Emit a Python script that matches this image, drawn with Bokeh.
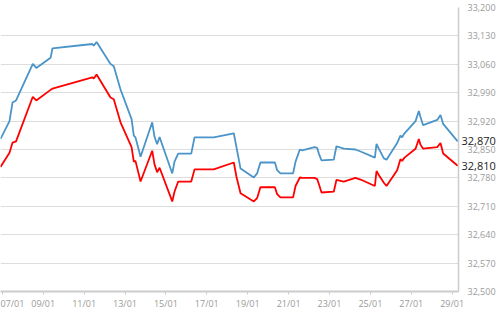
from bokeh.plotting import figure
from bokeh.models import FixedTicker, NumeralTickFormatter, Range1d, LinearAxis
from bokeh.embed import file_html
from bokeh.resources import INLINE

# Time (day of January, fractional) and two price series
days = [6.91, 7.35, 7.50, 7.67, 8.49, 8.66, 9.36, 9.45, 11.40, 11.47, 11.61,
        12.29, 12.45, 12.78, 13.32, 13.43, 13.51, 13.76, 14.33, 14.44, 14.57,
        14.69, 15.31, 15.42, 15.60, 16.24, 16.40, 17.34, 18.32, 18.45, 18.65,
        19.30, 19.46, 19.62, 20.33, 20.44, 20.60, 21.22, 21.34, 21.55, 21.67,
        22.27, 22.40, 22.48, 22.61, 23.21, 23.34, 23.70, 24.27, 24.52, 25.22,
        25.30, 25.41, 25.66, 25.79, 26.31, 26.47, 26.55, 26.67, 27.21, 27.37,
        27.45, 27.58, 28.27, 28.43, 28.56, 29.27]
blue = [32876, 32920, 32966, 32971, 33061, 33051, 33076, 33099, 33110, 33106, 33115,
        33061, 33055, 32998, 32925, 32884, 32880, 32832, 32917, 32882, 32863,
        32881, 32791, 32820, 32840, 32840, 32880, 32880, 32890, 32856, 32803,
        32781, 32791, 32818, 32818, 32799, 32791, 32791, 32820, 32850, 32848,
        32856, 32854, 32840, 32823, 32825, 32858, 32852, 32850, 32845, 32830,
        32864, 32852, 32828, 32825, 32866, 32884, 32880, 32890, 32920, 32945,
        32930, 32910, 32923, 32935, 32913, 32870]
red = [32807, 32842, 32867, 32870, 32980, 32971, 32997, 33000, 33028, 33025, 33035,
       32978, 32974, 32917, 32856, 32820, 32822, 32771, 32847, 32814, 32794,
       32805, 32722, 32746, 32771, 32771, 32801, 32801, 32818, 32783, 32742,
       32722, 32730, 32757, 32757, 32740, 32732, 32732, 32760, 32781, 32780,
       32780, 32777, 32765, 32744, 32746, 32775, 32771, 32780, 32776, 32760,
       32797, 32787, 32768, 32760, 32799, 32826, 32822, 32830, 32852, 32876,
       32862, 32852, 32856, 32866, 32840, 32810]

x_ticks = [7, 9, 11, 13, 15, 17, 19, 21, 23, 25, 27, 29]
x_labels = ["07/01", "09/01", "11/01", "13/01", "15/01", "17/01", "19/01",
            "21/01", "23/01", "25/01", "27/01", "29/01"]
y_ticks = [32500, 32570, 32640, 32710, 32780, 32850, 32920, 32990, 33060, 33130, 33200]

FONT = "Open Sans"
GRAY = "#9a9a9a"

p = figure(width=500, height=312, output_backend="svg", toolbar_location=None,
           x_range=Range1d(6.91, 29.31), y_range=Range1d(32500, 33200),
           min_border_left=0, min_border_right=42, min_border_top=7,
           min_border_bottom=18, y_axis_location="right")
p.outline_line_color = None
p.background_fill_color = "white"
p.border_fill_color = "white"

p.xgrid.grid_line_color = None
p.ygrid.grid_line_color = "#dddddd"
p.ygrid.grid_line_width = 1

xa = p.xaxis[0]
xa.ticker = FixedTicker(ticks=x_ticks)
xa.major_label_overrides = {t: l for t, l in zip(x_ticks, x_labels)}
xa.axis_line_color = "#cccccc"
xa.axis_line_width = 2
xa.major_tick_line_color = "#cccccc"
xa.major_tick_out = 3
xa.major_tick_in = 0
xa.minor_tick_line_color = None
xa.major_label_standoff = 2
xa.major_label_text_font = FONT
xa.major_label_text_font_size = "9px"
xa.major_label_text_color = GRAY

ya = p.yaxis[0]
ya.ticker = FixedTicker(ticks=y_ticks)
ya.formatter = NumeralTickFormatter(format="0,0")
ya.axis_line_color = "#cccccc"
ya.axis_line_width = 1.5
ya.major_tick_line_color = None
ya.major_tick_out = 0
ya.major_tick_in = 0
ya.minor_tick_line_color = None
ya.minor_tick_out = 0
ya.major_label_standoff = 9
ya.major_label_text_font = FONT
ya.major_label_text_font_size = "9px"
ya.major_label_text_color = GRAY

p.line(days, blue, line_color="#4a94c9", line_width=1.8)
p.line(days, red, line_color="#ff0000", line_width=1.8)

# last-value markers as a second right axis
last_vals = [blue[-1], red[-1]]
la = LinearAxis(ticker=FixedTicker(ticks=last_vals),
                formatter=NumeralTickFormatter(format="0,0"))
la.axis_line_color = None
la.major_tick_line_color = None
la.major_tick_out = 0
la.major_tick_in = 0
la.minor_tick_line_color = None
la.minor_tick_out = 0
la.major_label_standoff = -37
la.major_label_text_font = FONT
la.major_label_text_font_size = "11px"
la.major_label_text_color = "#222222"
p.add_layout(la, "right")

open("out.html", "w").write(file_html(p, INLINE))
